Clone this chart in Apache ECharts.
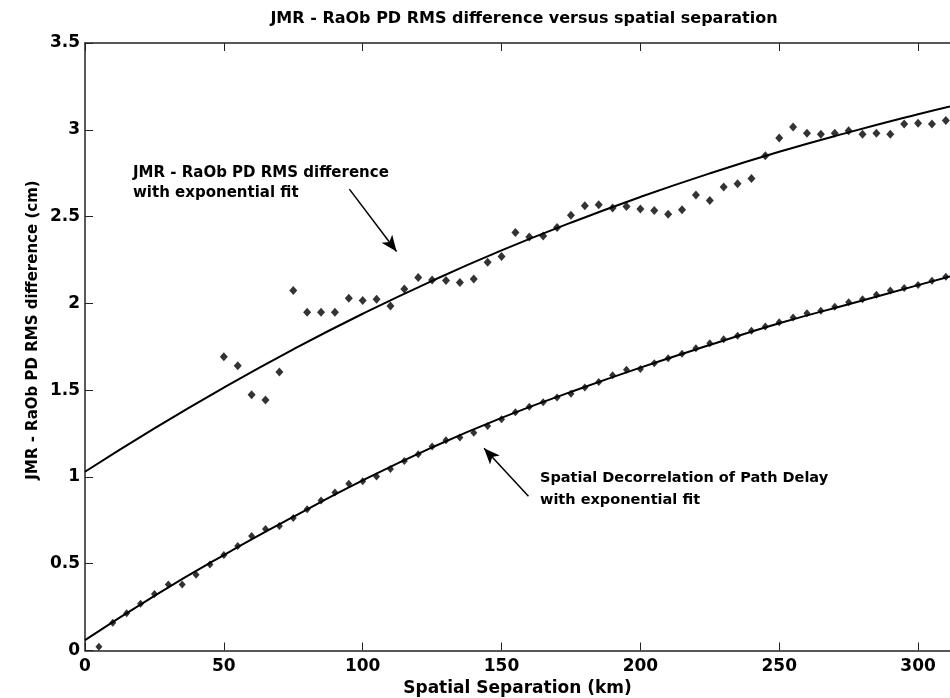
<!DOCTYPE html>
<html>
<head>
<meta charset="utf-8">
<script src="https://cdn.jsdelivr.net/npm/echarts@6/dist/echarts.min.js"></script>
<style>
html,body{margin:0;padding:0;background:#fff;}
#chart{width:950px;height:698px;}
</style>
</head>
<body>
<div id="chart"></div>
<script>
// Spatial decorrelation of path delay (points)
const decorrX = [5,10,15,20,25,30,35,40,45,50,55,60,65,70,75,80,85,90,95,100,105,110,115,120,125,130,135,140,145,150,155,160,165,170,175,180,185,190,195,200,205,210,215,220,225,230,235,240,245,250,255,260,265,270,275,280,285,290,295,300,305,310];
const decorrY = [0.022,0.16,0.214,0.27,0.325,0.38,0.38,0.436,0.496,0.55,0.602,0.66,0.70,0.717,0.764,0.814,0.864,0.91,0.96,0.975,1.002,1.046,1.092,1.13,1.175,1.211,1.227,1.255,1.294,1.333,1.373,1.405,1.430,1.458,1.479,1.515,1.547,1.586,1.617,1.622,1.655,1.684,1.709,1.742,1.77,1.793,1.813,1.842,1.866,1.891,1.918,1.943,1.957,1.981,2.007,2.024,2.049,2.074,2.088,2.106,2.13,2.154];
// JMR - RaOb PD RMS difference (points)
const rmsX = [50,55,60,65,70,75,80,85,90,95,100,105,110,115,120,125,130,135,140,145,150,155,160,165,170,175,180,185,190,195,200,205,210,215,220,225,230,235,240,245,250,255,260,265,270,275,280,285,290,295,300,305,310];
const rmsY = [1.693,1.641,1.473,1.443,1.604,2.074,1.949,1.949,1.949,2.03,2.016,2.024,1.985,2.082,2.149,2.135,2.131,2.12,2.141,2.237,2.27,2.408,2.382,2.388,2.437,2.507,2.562,2.568,2.549,2.558,2.543,2.535,2.514,2.539,2.625,2.592,2.67,2.689,2.719,2.85,2.952,3.016,2.98,2.975,2.98,2.994,2.975,2.98,2.975,3.033,3.038,3.033,3.053];
// Exponential fit curves
const fitX = [0,25,50,75,100,125,150,175,200,225,250,275,300,311.5];
const rmsFitY = [1.03,1.28,1.515,1.735,1.94,2.13,2.305,2.465,2.613,2.749,2.873,2.985,3.09,3.135];
const decorrFitY = [0.06,0.315,0.55,0.77,0.98,1.17,1.34,1.49,1.63,1.76,1.885,1.995,2.105,2.155];

const xTicks = [0,50,100,150,200,250,300];
const yTicks = [0,0.5,1,1.5,2,2.5,3,3.5];

const titleText = 'JMR - RaOb PD RMS difference versus spatial separation';
const xName = 'Spatial Separation (km)';
const yName = 'JMR - RaOb PD RMS difference (cm)';
const note1 = 'JMR - RaOb PD RMS difference\nwith exponential fit';
const note2 = 'Spatial Decorrelation of Path Delay\nwith exponential fit';
// arrow endpoints in data units [tail, head]
const arrow1 = [[95.2,2.658],[112.2,2.299]];
const arrow2 = [[159.7,0.889],[143.7,1.165]];

const zip = (xs, ys) => xs.map((x, i) => [x, ys[i]]);
const FONT = '"DejaVu Sans", sans-serif';

const chart = echarts.init(document.getElementById('chart'));
const axisLine = {show:true, lineStyle:{color:'#222', width:1.5}};
chart.setOption({
  animation:false,
  backgroundColor:'#fff',
  title:{text:titleText, left:519, top:6, textAlign:'center',
    textStyle:{fontFamily:FONT, fontWeight:'bold', fontSize:16, color:'#000'}},
  grid:{left:85, right:0, top:43, bottom:47.5, containLabel:false, outerBoundsMode:'none'},
  xAxis:[{
    type:'value', min:0, max:311.5, interval:50,
    name:xName, nameLocation:'middle', nameGap:30,
    nameTextStyle:{fontFamily:FONT, fontWeight:'bold', fontSize:17, color:'#000'},
    axisLine:axisLine,
    axisTick:{show:true, inside:true, length:8, lineStyle:{color:'#222', width:1}},
    axisLabel:{fontFamily:FONT, fontWeight:'bold', fontSize:17, color:'#000', margin:8, showMaxLabel:false},
    splitLine:{show:false}
  },{
    type:'value', min:0, max:311.5, interval:50, position:'top',
    axisLine:axisLine,
    axisTick:{show:true, inside:true, length:8, lineStyle:{color:'#222', width:1}},
    axisLabel:{show:false}, splitLine:{show:false}
  }],
  yAxis:{
    type:'value', min:0, max:3.5, interval:0.5,
    axisLine:axisLine,
    axisTick:{show:true, inside:true, length:8, lineStyle:{color:'#222', width:1}},
    axisLabel:{fontFamily:FONT, fontWeight:'bold', fontSize:17, color:'#000', margin:5,
      formatter:v => String(v)},
    splitLine:{show:false}
  },
  series:[
    {type:'line', data:zip(fitX, rmsFitY), smooth:true, showSymbol:false, symbol:'none',
      lineStyle:{color:'#000', width:2}, z:2},
    {type:'line', data:zip(fitX, decorrFitY), smooth:true, showSymbol:false, symbol:'none',
      lineStyle:{color:'#000', width:2}, z:2,
      markLine:{silent:true, symbol:['none','arrow'], symbolSize:[10,16],
        lineStyle:{color:'#000', width:1.5, type:'solid'}, label:{show:false},
        data:[
          [{coord:arrow1[0]},{coord:arrow1[1]}],
          [{coord:arrow2[0]},{coord:arrow2[1]}]
        ]}},
    {type:'scatter', data:zip(rmsX, rmsY), symbol:'diamond', symbolSize:[8,9],
      itemStyle:{color:'#000'}, z:3},
    {type:'scatter', data:zip(decorrX, decorrY), symbol:'diamond', symbolSize:[7,8],
      itemStyle:{color:'#000'}, z:3}
  ],
  graphic:[
    {type:'text', x:33, y:330, rotation:Math.PI/2,
      style:{text:yName, fontFamily:FONT, fontWeight:'bold', fontSize:15, fill:'#000',
        align:'center', verticalAlign:'middle'}},
    {type:'text', left:133, top:163, style:{text:note1, fontFamily:FONT, fontWeight:'bold',
      fontSize:15, lineHeight:20, fill:'#000'}},
    {type:'text', left:540, top:467, style:{text:note2, fontFamily:FONT, fontWeight:'bold',
      fontSize:14.5, lineHeight:22, fill:'#000'}}
  ]
});
</script>
</body>
</html>
